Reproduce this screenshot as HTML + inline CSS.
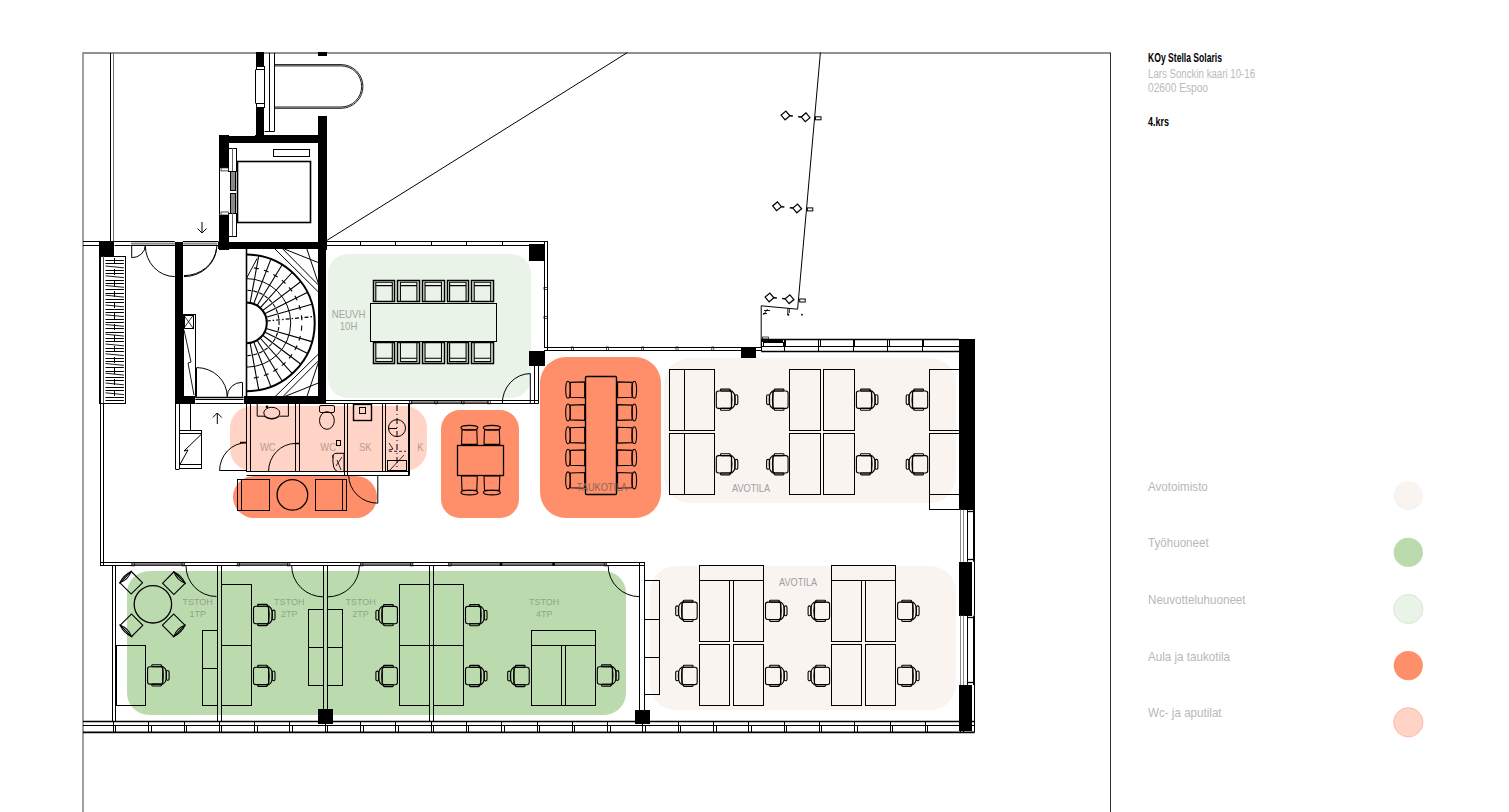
<!DOCTYPE html>
<html><head><meta charset="utf-8"><style>
html,body{margin:0;padding:0;background:#fff;width:1509px;height:812px;overflow:hidden}
svg{display:block;font-family:"Liberation Sans",sans-serif}
</style></head><body>
<svg width="1509" height="812" viewBox="0 0 1509 812">
<rect x="328" y="254" width="203" height="144" rx="20" fill="#e9f3e7"/>
<rect x="230" y="406" width="197" height="65" rx="22" fill="#ffd3c5"/>
<rect x="233" y="476" width="144" height="42" rx="21" fill="#ff8e6a"/>
<rect x="441" y="410" width="78" height="108" rx="19" fill="#ff8e6a"/>
<rect x="540" y="357" width="121" height="161" rx="26" fill="#ff8e6a"/>
<rect x="664" y="358" width="292" height="145" rx="26" fill="#f9f4f0"/>
<rect x="127" y="571" width="499" height="144" rx="22" fill="#bbdbae"/>
<rect x="650" y="566" width="306" height="144" rx="26" fill="#f9f4f0"/>
<path d="M83,812 V53 H1110.5" stroke="#6e6e6e" stroke-width="1.3" fill="none" />
<line x1="1110.5" y1="52.5" x2="1110.5" y2="812" stroke="#333" stroke-width="1" />
<line x1="110.5" y1="53" x2="110.5" y2="241.7" stroke="#000" stroke-width="1" />
<line x1="113.5" y1="53" x2="113.5" y2="241.7" stroke="#707070" stroke-width="1" />
<line x1="83" y1="241.5" x2="130.5" y2="241.5" stroke="#000" stroke-width="1" />
<line x1="83" y1="245.5" x2="99" y2="245.5" stroke="#000" stroke-width="1" />
<line x1="114.5" y1="245.5" x2="130.5" y2="245.5" stroke="#000" stroke-width="1" />
<rect x="99" y="242" width="15" height="14" fill="#000"/>
<line x1="100.5" y1="256" x2="100.5" y2="565" stroke="#000" stroke-width="1" />
<line x1="103.5" y1="256" x2="103.5" y2="565" stroke="#000" stroke-width="1" />
<rect x="99.5" y="256.5" width="26.0" height="147.0" fill="none" stroke="#000" stroke-width="1" rx="0" />
<line x1="103.5" y1="256.2" x2="103.5" y2="403.3" stroke="#555" stroke-width="1" />
<line x1="105.5" y1="260.5" x2="123.9" y2="260.5" stroke="#000" stroke-width="1" />
<line x1="105.5" y1="263.5" x2="123.9" y2="263.5" stroke="#000" stroke-width="1" />
<line x1="105.5" y1="266.0" x2="123.9" y2="267.8" stroke="#000" stroke-width="0.9" />
<line x1="105.5" y1="270.5" x2="123.9" y2="270.5" stroke="#000" stroke-width="1" />
<line x1="105.5" y1="273.5" x2="123.9" y2="273.5" stroke="#000" stroke-width="1" />
<line x1="105.5" y1="275.8" x2="123.9" y2="277.6" stroke="#000" stroke-width="0.9" />
<line x1="105.5" y1="280.5" x2="123.9" y2="280.5" stroke="#000" stroke-width="1" />
<line x1="105.5" y1="283.5" x2="123.9" y2="283.5" stroke="#000" stroke-width="1" />
<line x1="105.5" y1="285.5" x2="123.9" y2="287.3" stroke="#000" stroke-width="0.9" />
<line x1="105.5" y1="289.5" x2="123.9" y2="289.5" stroke="#000" stroke-width="1" />
<line x1="105.5" y1="293.5" x2="123.9" y2="293.5" stroke="#000" stroke-width="1" />
<line x1="105.5" y1="295.2" x2="123.9" y2="297.1" stroke="#000" stroke-width="0.9" />
<line x1="105.5" y1="299.5" x2="123.9" y2="299.5" stroke="#000" stroke-width="1" />
<line x1="105.5" y1="302.5" x2="123.9" y2="302.5" stroke="#000" stroke-width="1" />
<line x1="105.5" y1="305.0" x2="123.9" y2="306.8" stroke="#000" stroke-width="0.9" />
<line x1="105.5" y1="309.5" x2="123.9" y2="309.5" stroke="#000" stroke-width="1" />
<line x1="105.5" y1="312.5" x2="123.9" y2="312.5" stroke="#000" stroke-width="1" />
<line x1="105.5" y1="314.8" x2="123.9" y2="316.6" stroke="#000" stroke-width="0.9" />
<line x1="105.5" y1="319.5" x2="123.9" y2="319.5" stroke="#000" stroke-width="1" />
<line x1="105.5" y1="322.5" x2="123.9" y2="322.5" stroke="#000" stroke-width="1" />
<line x1="105.5" y1="324.5" x2="123.9" y2="326.3" stroke="#000" stroke-width="0.9" />
<line x1="105.5" y1="328.5" x2="123.9" y2="328.5" stroke="#000" stroke-width="1" />
<line x1="105.5" y1="332.5" x2="123.9" y2="332.5" stroke="#000" stroke-width="1" />
<line x1="105.5" y1="334.2" x2="123.9" y2="336.1" stroke="#000" stroke-width="0.9" />
<line x1="105.5" y1="338.5" x2="123.9" y2="338.5" stroke="#000" stroke-width="1" />
<line x1="105.5" y1="341.5" x2="123.9" y2="341.5" stroke="#000" stroke-width="1" />
<line x1="105.5" y1="344.0" x2="123.9" y2="345.8" stroke="#000" stroke-width="0.9" />
<line x1="105.5" y1="348.5" x2="123.9" y2="348.5" stroke="#000" stroke-width="1" />
<line x1="105.5" y1="351.5" x2="123.9" y2="351.5" stroke="#000" stroke-width="1" />
<line x1="105.5" y1="353.8" x2="123.9" y2="355.6" stroke="#000" stroke-width="0.9" />
<line x1="105.5" y1="358.5" x2="123.9" y2="358.5" stroke="#000" stroke-width="1" />
<line x1="105.5" y1="361.5" x2="123.9" y2="361.5" stroke="#000" stroke-width="1" />
<line x1="105.5" y1="363.5" x2="123.9" y2="365.3" stroke="#000" stroke-width="0.9" />
<line x1="105.5" y1="367.5" x2="123.9" y2="367.5" stroke="#000" stroke-width="1" />
<line x1="105.5" y1="371.5" x2="123.9" y2="371.5" stroke="#000" stroke-width="1" />
<line x1="105.5" y1="373.2" x2="123.9" y2="375.1" stroke="#000" stroke-width="0.9" />
<line x1="105.5" y1="377.5" x2="123.9" y2="377.5" stroke="#000" stroke-width="1" />
<line x1="105.5" y1="380.5" x2="123.9" y2="380.5" stroke="#000" stroke-width="1" />
<line x1="105.5" y1="383.0" x2="123.9" y2="384.8" stroke="#000" stroke-width="0.9" />
<line x1="105.5" y1="387.5" x2="123.9" y2="387.5" stroke="#000" stroke-width="1" />
<line x1="105.5" y1="390.5" x2="123.9" y2="390.5" stroke="#000" stroke-width="1" />
<line x1="105.5" y1="392.8" x2="123.9" y2="394.6" stroke="#000" stroke-width="0.9" />
<line x1="105.5" y1="397.5" x2="123.9" y2="397.5" stroke="#000" stroke-width="1" />
<line x1="105.5" y1="400.5" x2="123.9" y2="400.5" stroke="#000" stroke-width="1" />
<line x1="114.5" y1="258" x2="114.5" y2="264" stroke="#000" stroke-width="1" />
<line x1="114.5" y1="269" x2="114.5" y2="275" stroke="#000" stroke-width="1" />
<line x1="114.5" y1="280" x2="114.5" y2="286" stroke="#000" stroke-width="1" />
<line x1="114.5" y1="291" x2="114.5" y2="297" stroke="#000" stroke-width="1" />
<line x1="114.5" y1="302" x2="114.5" y2="308" stroke="#000" stroke-width="1" />
<line x1="114.5" y1="313" x2="114.5" y2="319" stroke="#000" stroke-width="1" />
<line x1="114.5" y1="324" x2="114.5" y2="330" stroke="#000" stroke-width="1" />
<line x1="114.5" y1="335" x2="114.5" y2="341" stroke="#000" stroke-width="1" />
<line x1="114.5" y1="346" x2="114.5" y2="352" stroke="#000" stroke-width="1" />
<line x1="114.5" y1="357" x2="114.5" y2="363" stroke="#000" stroke-width="1" />
<line x1="114.5" y1="368" x2="114.5" y2="374" stroke="#000" stroke-width="1" />
<line x1="114.5" y1="379" x2="114.5" y2="385" stroke="#000" stroke-width="1" />
<line x1="114.5" y1="390" x2="114.5" y2="396" stroke="#000" stroke-width="1" />
<rect x="256" y="52" width="8" height="14" fill="#000"/>
<rect x="256.5" y="66.5" width="8.0" height="3.0" fill="none" stroke="#000" stroke-width="1" rx="0" />
<line x1="255.5" y1="69.5" x2="255.5" y2="103.5" stroke="#000" stroke-width="1" />
<line x1="264.5" y1="69.5" x2="264.5" y2="103.5" stroke="#000" stroke-width="1" />
<rect x="256.5" y="103.5" width="8.0" height="4.0" fill="none" stroke="#000" stroke-width="1" rx="0" />
<rect x="256" y="107" width="8" height="36" fill="#000"/>
<line x1="269.5" y1="53" x2="269.5" y2="131.7" stroke="#000" stroke-width="1" />
<line x1="274.5" y1="53" x2="274.5" y2="131.7" stroke="#000" stroke-width="1" />
<line x1="264.5" y1="131.5" x2="274.2" y2="131.5" stroke="#000" stroke-width="1" />
<path d="M274.5,64.6 H341.1 A21.85,21.85 0 0 1 341.1,108.3 H274.5" stroke="#000" stroke-width="0.9" fill="none" />
<path d="M274.5,65.9 H341.1 A20.55,20.55 0 0 1 341.1,107 H274.5" stroke="#000" stroke-width="0.9" fill="none" />
<rect x="318" y="52" width="9" height="4" fill="#000"/>
<rect x="318" y="116" width="9" height="134" fill="#000"/>
<rect x="219" y="135" width="108" height="8" fill="#000"/>
<line x1="220.5" y1="135.5" x2="255" y2="135.5" stroke="#fff" stroke-width="1" />
<rect x="219" y="135" width="10" height="33" fill="#000"/>
<rect x="219" y="215" width="10" height="35" fill="#000"/>
<line x1="219.5" y1="167.9" x2="219.5" y2="214.7" stroke="#000" stroke-width="1" />
<rect x="237.5" y="161.5" width="73.0" height="61.0" fill="none" stroke="#000" stroke-width="1.6" rx="0" />
<rect x="273.5" y="149.5" width="36.0" height="7.0" fill="none" stroke="#000" stroke-width="1" rx="0" />
<rect x="228.5" y="148.5" width="8.0" height="23.0" fill="none" stroke="#000" stroke-width="1" rx="0" />
<line x1="232.5" y1="148.2" x2="232.5" y2="171.4" stroke="#666" stroke-width="1" />
<rect x="230.5" y="171.5" width="5.0" height="19.0" fill="#888" stroke="#000" stroke-width="1" rx="0" />
<rect x="230.5" y="193.5" width="5.0" height="20.0" fill="#888" stroke="#000" stroke-width="1" rx="0" />
<rect x="228.5" y="213.5" width="8.0" height="23.0" fill="none" stroke="#000" stroke-width="1" rx="0" />
<line x1="232.5" y1="213" x2="232.5" y2="236.3" stroke="#666" stroke-width="1" />
<rect x="221" y="167.9" width="7.5" height="3" fill="#fff" stroke="#000" stroke-width="0.7" rx="0" />
<rect x="221" y="212" width="7.5" height="3" fill="#fff" stroke="#000" stroke-width="0.7" rx="0" />
<path d="M202,222 V233 M197.5,228.5 L202,233 L206.5,228.5" stroke="#000" stroke-width="1" fill="none" />
<rect x="175" y="242" width="8" height="162" fill="#000"/>
<rect x="218" y="242" width="108" height="7" fill="#000"/>
<rect x="318" y="242" width="8" height="162" fill="#000"/>
<rect x="175" y="396" width="20" height="8" fill="#000"/>
<rect x="244" y="396" width="82" height="8" fill="#000"/>
<line x1="195.3" y1="397.5" x2="243.6" y2="397.5" stroke="#000" stroke-width="1.3" />
<line x1="195.3" y1="399.5" x2="243.6" y2="399.5" stroke="#000" stroke-width="1" />
<line x1="195.3" y1="403.5" x2="243.6" y2="403.5" stroke="#000" stroke-width="1" />
<line x1="130.5" y1="241.5" x2="174.8" y2="241.5" stroke="#000" stroke-width="1" />
<line x1="130.5" y1="245.5" x2="174.8" y2="245.5" stroke="#000" stroke-width="1" />
<rect x="131" y="242.6" width="44" height="2" fill="#8a8a8a" stroke="none" stroke-width="1" rx="0" />
<rect x="183.3" y="242.6" width="34" height="2" fill="#8a8a8a" stroke="none" stroke-width="1" rx="0" />
<line x1="182.8" y1="241.5" x2="218.5" y2="241.5" stroke="#000" stroke-width="1" />
<line x1="182.8" y1="245.5" x2="218.5" y2="245.5" stroke="#000" stroke-width="1" />
<path d="M131.7,245.4 V257.7 A13.6,12.3 0 0 0 145.3,245.4" stroke="#000" stroke-width="1" fill="none" />
<path d="M145.3,245.4 A29.5,31.2 0 0 0 174.8,276.6" stroke="#000" stroke-width="1" fill="none" />
<path d="M184,276.6 A32.9,31.2 0 0 0 216.9,245.4" stroke="#000" stroke-width="1" fill="none" />
<line x1="175.5" y1="403.6" x2="175.5" y2="469" stroke="#000" stroke-width="1" />
<line x1="179.5" y1="403.6" x2="179.5" y2="469" stroke="#000" stroke-width="1" />
<line x1="175.4" y1="469.5" x2="179.4" y2="469.5" stroke="#000" stroke-width="1" />
<rect x="179.5" y="430.5" width="22.0" height="38.0" fill="none" stroke="#000" stroke-width="1" rx="0" />
<line x1="179.4" y1="433.5" x2="201.6" y2="433.5" stroke="#000" stroke-width="1" />
<line x1="179.4" y1="464.5" x2="201.6" y2="464.5" stroke="#000" stroke-width="1" />
<line x1="190.5" y1="403.6" x2="190.5" y2="430.2" stroke="#000" stroke-width="1" />
<path d="M179.6,465 L188,450 L184,451 L201,434.6" stroke="#000" stroke-width="1" fill="none" />
<path d="M217.3,413 V424 M212.8,417.5 L217.3,413 L221.8,417.5" stroke="#000" stroke-width="1" fill="none" />
<rect x="183.5" y="314.5" width="12.0" height="82.0" fill="none" stroke="#000" stroke-width="1" rx="0" />
<rect x="184.5" y="315.5" width="9.0" height="13.0" fill="none" stroke="#000" stroke-width="1" rx="0" />
<path d="M184,315.5 L193,328 M193,315.5 L184,328" stroke="#000" stroke-width="0.8" fill="none" />
<path d="M184,330 L191,362 L188,363 L194,395" stroke="#000" stroke-width="0.9" fill="none" />
<path d="M196.7,367.6 A30.5,29.1 0 0 1 227.2,396.7" stroke="#000" stroke-width="1" fill="none" />
<line x1="196.5" y1="367.6" x2="196.5" y2="396.7" stroke="#000" stroke-width="1" />
<path d="M227.2,396.7 A14.8,14.4 0 0 1 242,382.3" stroke="#000" stroke-width="1" fill="none" />
<line x1="242.5" y1="382.3" x2="242.5" y2="396.7" stroke="#000" stroke-width="1" />
<path d="M183.9,275.6 A32.5,30 0 0 0 216.4,248.8" stroke="#000" stroke-width="1" fill="none" />
<line x1="246.5" y1="248.8" x2="246.5" y2="396.7" stroke="#000" stroke-width="1.6" />
<path d="M246.4,254.59999999999997 A68.3,68.3 0 0 1 246.4,391.2" stroke="#000" stroke-width="2" fill="none" />
<path d="M246.4,302.5 A20.4,20.4 0 0 1 246.4,343.29999999999995" stroke="#000" stroke-width="2" fill="none" />
<path d="M246.4,278.59999999999997 A44.3,44.3 0 0 1 246.4,367.2" stroke="#000" stroke-width="1" fill="none" />
<line x1="250.1" y1="302.8" x2="258.7" y2="256.0" stroke="#000" stroke-width="1.1" />
<line x1="253.7" y1="303.9" x2="270.8" y2="259.4" stroke="#000" stroke-width="1.1" />
<line x1="257.1" y1="305.5" x2="282.0" y2="265.0" stroke="#000" stroke-width="1.1" />
<line x1="260.1" y1="307.8" x2="292.1" y2="272.5" stroke="#000" stroke-width="1.1" />
<line x1="262.6" y1="310.6" x2="300.6" y2="281.8" stroke="#000" stroke-width="1.1" />
<line x1="264.6" y1="313.8" x2="307.2" y2="292.5" stroke="#000" stroke-width="1.1" />
<line x1="266.0" y1="317.3" x2="311.8" y2="304.2" stroke="#000" stroke-width="1.1" />
<line x1="266.7" y1="321.0" x2="314.1" y2="316.5" stroke="#000" stroke-width="1.2" stroke-dasharray="4,2,1.5,2"/>
<line x1="250.1" y1="343.0" x2="258.7" y2="389.8" stroke="#000" stroke-width="1.1" />
<line x1="253.7" y1="341.9" x2="270.8" y2="386.4" stroke="#000" stroke-width="1.1" />
<line x1="257.1" y1="340.3" x2="282.0" y2="380.8" stroke="#000" stroke-width="1.1" />
<line x1="260.1" y1="338.0" x2="292.1" y2="373.3" stroke="#000" stroke-width="1.1" />
<line x1="262.6" y1="335.2" x2="300.6" y2="364.0" stroke="#000" stroke-width="1.1" />
<line x1="264.6" y1="332.0" x2="307.2" y2="353.3" stroke="#000" stroke-width="1.1" />
<line x1="266.0" y1="328.5" x2="311.8" y2="341.6" stroke="#000" stroke-width="1.1" />
<path d="M253.9,267.9 A55.5,55.5 0 0 1 258.9,268.8" stroke="#000" stroke-width="1.1" fill="none"/>
<path d="M263.9,270.2 A55.5,55.5 0 0 1 268.6,272.0" stroke="#000" stroke-width="1.1" fill="none"/>
<path d="M273.3,274.4 A55.5,55.5 0 0 1 277.6,277.0" stroke="#000" stroke-width="1.1" fill="none"/>
<path d="M281.8,280.1 A55.5,55.5 0 0 1 285.5,283.5" stroke="#000" stroke-width="1.1" fill="none"/>
<path d="M289.0,287.4 A55.5,55.5 0 0 1 292.1,291.4" stroke="#000" stroke-width="1.1" fill="none"/>
<path d="M294.8,295.8 A55.5,55.5 0 0 1 297.1,300.3" stroke="#000" stroke-width="1.1" fill="none"/>
<path d="M299.0,305.2 A55.5,55.5 0 0 1 300.4,310.0" stroke="#000" stroke-width="1.1" fill="none"/>
<path d="M301.4,315.2 A55.5,55.5 0 0 1 301.8,320.2" stroke="#000" stroke-width="1.1" fill="none"/>
<path d="M301.8,325.6 A55.5,55.5 0 0 1 301.4,330.6" stroke="#000" stroke-width="1.1" fill="none"/>
<path d="M300.4,335.8 A55.5,55.5 0 0 1 299.0,340.6" stroke="#000" stroke-width="1.1" fill="none"/>
<path d="M297.1,345.5 A55.5,55.5 0 0 1 294.8,350.0" stroke="#000" stroke-width="1.1" fill="none"/>
<path d="M292.1,354.4 A55.5,55.5 0 0 1 289.0,358.4" stroke="#000" stroke-width="1.1" fill="none"/>
<path d="M285.5,362.3 A55.5,55.5 0 0 1 281.8,365.7" stroke="#000" stroke-width="1.1" fill="none"/>
<path d="M277.6,368.8 A55.5,55.5 0 0 1 273.3,371.4" stroke="#000" stroke-width="1.1" fill="none"/>
<path d="M268.6,373.8 A55.5,55.5 0 0 1 263.9,375.6" stroke="#000" stroke-width="1.1" fill="none"/>
<path d="M258.9,377.0 A55.5,55.5 0 0 1 253.9,377.9" stroke="#000" stroke-width="1.1" fill="none"/>
<path d="M247.4,290.2 A32.7,32.7 0 0 1 251.3,290.6" stroke="#000" stroke-width="1.1" fill="none"/>
<path d="M253.3,290.9 A32.7,32.7 0 0 1 257.2,292.0" stroke="#000" stroke-width="1.1" fill="none"/>
<path d="M259.1,292.8 A32.7,32.7 0 0 1 262.7,294.5" stroke="#000" stroke-width="1.1" fill="none"/>
<path d="M264.4,295.6 A32.7,32.7 0 0 1 267.6,298.0" stroke="#000" stroke-width="1.1" fill="none"/>
<path d="M269.1,299.4 A32.7,32.7 0 0 1 271.8,302.3" stroke="#000" stroke-width="1.1" fill="none"/>
<path d="M273.1,304.0 A32.7,32.7 0 0 1 275.2,307.3" stroke="#000" stroke-width="1.1" fill="none"/>
<path d="M276.1,309.2 A32.7,32.7 0 0 1 277.5,312.9" stroke="#000" stroke-width="1.1" fill="none"/>
<path d="M278.1,314.9 A32.7,32.7 0 0 1 278.8,318.8" stroke="#000" stroke-width="1.1" fill="none"/>
<path d="M279.0,320.9 A32.7,32.7 0 0 1 279.0,324.9" stroke="#000" stroke-width="1.1" fill="none"/>
<path d="M278.8,327.0 A32.7,32.7 0 0 1 278.1,330.9" stroke="#000" stroke-width="1.1" fill="none"/>
<path d="M277.5,332.9 A32.7,32.7 0 0 1 276.1,336.6" stroke="#000" stroke-width="1.1" fill="none"/>
<path d="M275.2,338.5 A32.7,32.7 0 0 1 273.1,341.8" stroke="#000" stroke-width="1.1" fill="none"/>
<path d="M271.8,343.5 A32.7,32.7 0 0 1 269.1,346.4" stroke="#000" stroke-width="1.1" fill="none"/>
<path d="M267.6,347.8 A32.7,32.7 0 0 1 264.4,350.2" stroke="#000" stroke-width="1.1" fill="none"/>
<path d="M262.7,351.3 A32.7,32.7 0 0 1 259.1,353.0" stroke="#000" stroke-width="1.1" fill="none"/>
<path d="M257.2,353.8 A32.7,32.7 0 0 1 253.3,354.9" stroke="#000" stroke-width="1.1" fill="none"/>
<path d="M251.3,355.2 A32.7,32.7 0 0 1 247.4,355.6" stroke="#000" stroke-width="1.1" fill="none"/>
<path d="M275,249 L318.4,292 M282.8,249 L318.4,285 M284.3,249 L318.4,262.6 M306.9,249 L318.4,283.5" stroke="#000" stroke-width="1" fill="none" />
<path d="M275,396.7 L318.4,354 M282.8,396.7 L318.4,360.8 M284.3,396.7 L318.4,383 M306.9,396.7 L318.4,362.3" stroke="#000" stroke-width="1" fill="none" />
<path d="M246.4,278.5 L257.2,258.3" stroke="#000" stroke-width="1" fill="none" />
<line x1="326" y1="241.5" x2="547.6" y2="241.5" stroke="#000" stroke-width="1" />
<line x1="326" y1="245.5" x2="544" y2="245.5" stroke="#000" stroke-width="1" />
<line x1="360.5" y1="241" x2="360.5" y2="245" stroke="#000" stroke-width="1" />
<line x1="395.5" y1="241" x2="395.5" y2="245" stroke="#000" stroke-width="1" />
<line x1="431.5" y1="241" x2="431.5" y2="245" stroke="#000" stroke-width="1" />
<line x1="466.5" y1="241" x2="466.5" y2="245" stroke="#000" stroke-width="1" />
<line x1="502.5" y1="241" x2="502.5" y2="245" stroke="#000" stroke-width="1" />
<line x1="547.5" y1="241.2" x2="547.5" y2="350.5" stroke="#000" stroke-width="1" />
<line x1="544.5" y1="241.2" x2="544.5" y2="347" stroke="#000" stroke-width="1" />
<rect x="544" y="287.5" width="3.5" height="2" fill="none" stroke="#000" stroke-width="0.7" rx="0" />
<rect x="544" y="316.3" width="3.5" height="2" fill="none" stroke="#000" stroke-width="0.7" rx="0" />
<rect x="529" y="244" width="16" height="17" fill="#000"/>
<rect x="529" y="351" width="16" height="15" fill="#000"/>
<line x1="534.5" y1="366" x2="534.5" y2="403.7" stroke="#000" stroke-width="1" />
<line x1="538.5" y1="366" x2="538.5" y2="403.7" stroke="#000" stroke-width="1" />
<line x1="325" y1="400.5" x2="538.4" y2="400.5" stroke="#000" stroke-width="1" />
<line x1="325" y1="403.5" x2="538.4" y2="403.5" stroke="#000" stroke-width="1" />
<path d="M502.3,403.7 A28,30 0 0 1 530.3,373.6 V403.7" stroke="#000" stroke-width="1" fill="none" />
<rect x="370.5" y="303.5" width="126.0" height="38.0" fill="none" stroke="#000" stroke-width="1" rx="0" />
<rect x="373.5" y="280.5" width="21.0" height="21.0" fill="none" stroke="#000" stroke-width="1.5" rx="0" />
<path d="M375.8,301.4 V282.2 H392.3 V301.4 M375.8,285.59999999999997 H392.3" stroke="#000" stroke-width="1.1" fill="none" />
<rect x="373.5" y="342.5" width="21.0" height="21.0" fill="none" stroke="#000" stroke-width="1.5" rx="0" />
<path d="M375.8,342.4 V361.59999999999997 H392.3 V342.4 M375.8,358.2 H392.3" stroke="#000" stroke-width="1.1" fill="none" />
<rect x="397.5" y="280.5" width="22.0" height="21.0" fill="none" stroke="#000" stroke-width="1.5" rx="0" />
<path d="M400.40000000000003,301.4 V282.2 H416.90000000000003 V301.4 M400.40000000000003,285.59999999999997 H416.90000000000003" stroke="#000" stroke-width="1.1" fill="none" />
<rect x="397.5" y="342.5" width="22.0" height="21.0" fill="none" stroke="#000" stroke-width="1.5" rx="0" />
<path d="M400.40000000000003,342.4 V361.59999999999997 H416.90000000000003 V342.4 M400.40000000000003,358.2 H416.90000000000003" stroke="#000" stroke-width="1.1" fill="none" />
<rect x="422.5" y="280.5" width="22.0" height="21.0" fill="none" stroke="#000" stroke-width="1.5" rx="0" />
<path d="M425.0,301.4 V282.2 H441.5 V301.4 M425.0,285.59999999999997 H441.5" stroke="#000" stroke-width="1.1" fill="none" />
<rect x="422.5" y="342.5" width="22.0" height="21.0" fill="none" stroke="#000" stroke-width="1.5" rx="0" />
<path d="M425.0,342.4 V361.59999999999997 H441.5 V342.4 M425.0,358.2 H441.5" stroke="#000" stroke-width="1.1" fill="none" />
<rect x="447.5" y="280.5" width="21.0" height="21.0" fill="none" stroke="#000" stroke-width="1.5" rx="0" />
<path d="M449.6,301.4 V282.2 H466.1 V301.4 M449.6,285.59999999999997 H466.1" stroke="#000" stroke-width="1.1" fill="none" />
<rect x="447.5" y="342.5" width="21.0" height="21.0" fill="none" stroke="#000" stroke-width="1.5" rx="0" />
<path d="M449.6,342.4 V361.59999999999997 H466.1 V342.4 M449.6,358.2 H466.1" stroke="#000" stroke-width="1.1" fill="none" />
<rect x="471.5" y="280.5" width="22.0" height="21.0" fill="none" stroke="#000" stroke-width="1.5" rx="0" />
<path d="M474.20000000000005,301.4 V282.2 H490.70000000000005 V301.4 M474.20000000000005,285.59999999999997 H490.70000000000005" stroke="#000" stroke-width="1.1" fill="none" />
<rect x="471.5" y="342.5" width="22.0" height="21.0" fill="none" stroke="#000" stroke-width="1.5" rx="0" />
<path d="M474.20000000000005,342.4 V361.59999999999997 H490.70000000000005 V342.4 M474.20000000000005,358.2 H490.70000000000005" stroke="#000" stroke-width="1.1" fill="none" />
<text transform="translate(348.6,318) scale(0.92,1)" font-size="10.5" fill="#a4a8a2" text-anchor="middle" font-weight="normal" letter-spacing="0">NEUVH</text>
<text transform="translate(348.6,330) scale(0.92,1)" font-size="10.5" fill="#a4a8a2" text-anchor="middle" font-weight="normal" letter-spacing="0">10H</text>
<line x1="100" y1="562.5" x2="644" y2="562.5" stroke="#000" stroke-width="1" />
<line x1="100" y1="565.5" x2="644" y2="565.5" stroke="#000" stroke-width="1" />
<rect x="131.8" y="563.2" width="52.7" height="2.2" fill="#707070" stroke="none" stroke-width="1" rx="0" />
<rect x="131.8" y="562.6" width="2.5" height="3.3" fill="none" stroke="#000" stroke-width="0.7" rx="0" />
<rect x="182.0" y="562.6" width="2.5" height="3.3" fill="none" stroke="#000" stroke-width="0.7" rx="0" />
<rect x="237.2" y="563.2" width="52.7" height="2.2" fill="#707070" stroke="none" stroke-width="1" rx="0" />
<rect x="237.2" y="562.6" width="2.5" height="3.3" fill="none" stroke="#000" stroke-width="0.7" rx="0" />
<rect x="287.4" y="562.6" width="2.5" height="3.3" fill="none" stroke="#000" stroke-width="0.7" rx="0" />
<rect x="360.4" y="563.2" width="52.5" height="2.2" fill="#707070" stroke="none" stroke-width="1" rx="0" />
<rect x="360.4" y="562.6" width="2.5" height="3.3" fill="none" stroke="#000" stroke-width="0.7" rx="0" />
<rect x="410.4" y="562.6" width="2.5" height="3.3" fill="none" stroke="#000" stroke-width="0.7" rx="0" />
<rect x="448.6" y="563.2" width="158.1" height="2.2" fill="#707070" stroke="none" stroke-width="1" rx="0" />
<rect x="448.6" y="562.6" width="2.5" height="3.3" fill="none" stroke="#000" stroke-width="0.7" rx="0" />
<rect x="604.2" y="562.6" width="2.5" height="3.3" fill="none" stroke="#000" stroke-width="0.7" rx="0" />
<rect x="499.7" y="562.6" width="2.6" height="3.3" fill="#000" stroke="none" stroke-width="1" rx="0" />
<rect x="552.3000000000001" y="562.6" width="2.6" height="3.3" fill="#000" stroke="none" stroke-width="1" rx="0" />
<line x1="83" y1="721.5" x2="974.6" y2="721.5" stroke="#000" stroke-width="1.4" />
<line x1="83" y1="725.5" x2="974.6" y2="725.5" stroke="#000" stroke-width="1" />
<line x1="83" y1="732.3" x2="974.6" y2="732.3" stroke="#000" stroke-width="1.8" />
<line x1="113.5" y1="721" x2="113.5" y2="732.3" stroke="#000" stroke-width="1" />
<line x1="115.5" y1="725" x2="115.5" y2="732.3" stroke="#000" stroke-width="1" />
<line x1="148.5" y1="721" x2="148.5" y2="732.3" stroke="#000" stroke-width="1" />
<line x1="151.5" y1="725" x2="151.5" y2="732.3" stroke="#000" stroke-width="1" />
<line x1="184.5" y1="721" x2="184.5" y2="732.3" stroke="#000" stroke-width="1" />
<line x1="186.5" y1="725" x2="186.5" y2="732.3" stroke="#000" stroke-width="1" />
<line x1="219.5" y1="721" x2="219.5" y2="732.3" stroke="#000" stroke-width="1" />
<line x1="221.5" y1="725" x2="221.5" y2="732.3" stroke="#000" stroke-width="1" />
<line x1="254.5" y1="721" x2="254.5" y2="732.3" stroke="#000" stroke-width="1" />
<line x1="257.5" y1="725" x2="257.5" y2="732.3" stroke="#000" stroke-width="1" />
<line x1="289.5" y1="721" x2="289.5" y2="732.3" stroke="#000" stroke-width="1" />
<line x1="292.5" y1="725" x2="292.5" y2="732.3" stroke="#000" stroke-width="1" />
<line x1="325.5" y1="721" x2="325.5" y2="732.3" stroke="#000" stroke-width="1" />
<line x1="327.5" y1="725" x2="327.5" y2="732.3" stroke="#000" stroke-width="1" />
<line x1="360.5" y1="721" x2="360.5" y2="732.3" stroke="#000" stroke-width="1" />
<line x1="363.5" y1="725" x2="363.5" y2="732.3" stroke="#000" stroke-width="1" />
<line x1="395.5" y1="721" x2="395.5" y2="732.3" stroke="#000" stroke-width="1" />
<line x1="398.5" y1="725" x2="398.5" y2="732.3" stroke="#000" stroke-width="1" />
<line x1="431.5" y1="721" x2="431.5" y2="732.3" stroke="#000" stroke-width="1" />
<line x1="433.5" y1="725" x2="433.5" y2="732.3" stroke="#000" stroke-width="1" />
<line x1="466.5" y1="721" x2="466.5" y2="732.3" stroke="#000" stroke-width="1" />
<line x1="468.5" y1="725" x2="468.5" y2="732.3" stroke="#000" stroke-width="1" />
<line x1="501.5" y1="721" x2="501.5" y2="732.3" stroke="#000" stroke-width="1" />
<line x1="504.5" y1="725" x2="504.5" y2="732.3" stroke="#000" stroke-width="1" />
<line x1="537.5" y1="721" x2="537.5" y2="732.3" stroke="#000" stroke-width="1" />
<line x1="539.5" y1="725" x2="539.5" y2="732.3" stroke="#000" stroke-width="1" />
<line x1="572.5" y1="721" x2="572.5" y2="732.3" stroke="#000" stroke-width="1" />
<line x1="574.5" y1="725" x2="574.5" y2="732.3" stroke="#000" stroke-width="1" />
<line x1="607.5" y1="721" x2="607.5" y2="732.3" stroke="#000" stroke-width="1" />
<line x1="610.5" y1="725" x2="610.5" y2="732.3" stroke="#000" stroke-width="1" />
<line x1="642.5" y1="721" x2="642.5" y2="732.3" stroke="#000" stroke-width="1" />
<line x1="645.5" y1="725" x2="645.5" y2="732.3" stroke="#000" stroke-width="1" />
<line x1="678.5" y1="721" x2="678.5" y2="732.3" stroke="#000" stroke-width="1" />
<line x1="680.5" y1="725" x2="680.5" y2="732.3" stroke="#000" stroke-width="1" />
<line x1="713.5" y1="721" x2="713.5" y2="732.3" stroke="#000" stroke-width="1" />
<line x1="716.5" y1="725" x2="716.5" y2="732.3" stroke="#000" stroke-width="1" />
<line x1="748.5" y1="721" x2="748.5" y2="732.3" stroke="#000" stroke-width="1" />
<line x1="751.5" y1="725" x2="751.5" y2="732.3" stroke="#000" stroke-width="1" />
<line x1="784.5" y1="721" x2="784.5" y2="732.3" stroke="#000" stroke-width="1" />
<line x1="786.5" y1="725" x2="786.5" y2="732.3" stroke="#000" stroke-width="1" />
<line x1="819.5" y1="721" x2="819.5" y2="732.3" stroke="#000" stroke-width="1" />
<line x1="821.5" y1="725" x2="821.5" y2="732.3" stroke="#000" stroke-width="1" />
<line x1="854.5" y1="721" x2="854.5" y2="732.3" stroke="#000" stroke-width="1" />
<line x1="857.5" y1="725" x2="857.5" y2="732.3" stroke="#000" stroke-width="1" />
<line x1="890.5" y1="721" x2="890.5" y2="732.3" stroke="#000" stroke-width="1" />
<line x1="892.5" y1="725" x2="892.5" y2="732.3" stroke="#000" stroke-width="1" />
<line x1="925.5" y1="721" x2="925.5" y2="732.3" stroke="#000" stroke-width="1" />
<line x1="927.5" y1="725" x2="927.5" y2="732.3" stroke="#000" stroke-width="1" />
<line x1="960.5" y1="721" x2="960.5" y2="732.3" stroke="#000" stroke-width="1" />
<line x1="963.5" y1="725" x2="963.5" y2="732.3" stroke="#000" stroke-width="1" />
<rect x="244" y="396" width="82" height="8" fill="#000"/>
<rect x="410.6" y="401.3" width="78.4" height="2" fill="#707070" stroke="none" stroke-width="1" rx="0" />
<rect x="409.40000000000003" y="400.6" width="2.4" height="3.2" fill="none" stroke="#000" stroke-width="0.8" rx="0" />
<rect x="434.8" y="400.6" width="2.4" height="3.2" fill="none" stroke="#000" stroke-width="0.8" rx="0" />
<rect x="461.6" y="400.6" width="2.4" height="3.2" fill="none" stroke="#000" stroke-width="0.8" rx="0" />
<rect x="487.8" y="400.6" width="2.4" height="3.2" fill="none" stroke="#000" stroke-width="0.8" rx="0" />
<line x1="246.5" y1="403.4" x2="246.5" y2="471.9" stroke="#000" stroke-width="1" />
<line x1="250.5" y1="403.4" x2="250.5" y2="471.9" stroke="#000" stroke-width="1" />
<line x1="295.5" y1="403.4" x2="295.5" y2="471.9" stroke="#000" stroke-width="1" />
<line x1="299.5" y1="403.4" x2="299.5" y2="471.9" stroke="#000" stroke-width="1" />
<line x1="344.5" y1="403.4" x2="344.5" y2="475.2" stroke="#000" stroke-width="1" />
<line x1="347.5" y1="403.4" x2="347.5" y2="475.2" stroke="#000" stroke-width="1" />
<line x1="382.5" y1="403.4" x2="382.5" y2="471.9" stroke="#000" stroke-width="1" />
<line x1="385.5" y1="403.4" x2="385.5" y2="471.9" stroke="#000" stroke-width="1" />
<line x1="408.5" y1="403.4" x2="408.5" y2="475.2" stroke="#000" stroke-width="1" />
<line x1="409.5" y1="403.4" x2="409.5" y2="475.2" stroke="#000" stroke-width="1" />
<line x1="246.6" y1="471.5" x2="409.6" y2="471.5" stroke="#000" stroke-width="1" />
<line x1="246.6" y1="475.5" x2="409.6" y2="475.5" stroke="#000" stroke-width="1" />
<line x1="219.6" y1="470.5" x2="246.6" y2="470.5" stroke="#000" stroke-width="1" />
<path d="M219.6,470.8 A27,28 0 0 1 246.6,442.7" stroke="#000" stroke-width="1" fill="none" />
<line x1="240" y1="442.5" x2="246.6" y2="442.5" stroke="#000" stroke-width="1.5" />
<path d="M268.5,471.6 A27.2,28.2 0 0 1 295.7,443.4" stroke="#000" stroke-width="1" fill="none" />
<line x1="295.7" y1="443.5" x2="299.4" y2="443.5" stroke="#000" stroke-width="1.5" />
<path d="M257.2,403.4 V416.2 H264 Q271.8,422 279.6,416.2 H288.4 V403.4" stroke="#000" stroke-width="1" fill="none" />
<ellipse cx="271.8" cy="412.9" rx="8" ry="5.6" fill="none" stroke="#000" stroke-width="1"/>
<circle cx="267" cy="406.8" r="1.3" fill="#000"/>
<rect x="319.5" y="405.5" width="15.0" height="7.0" fill="none" stroke="#000" stroke-width="1" rx="1.5" />
<ellipse cx="326.9" cy="420.5" rx="7.4" ry="8.8" fill="none" stroke="#000" stroke-width="1"/>
<rect x="336.5" y="440.5" width="4.0" height="5.0" fill="none" stroke="#000" stroke-width="1" rx="0" />
<path d="M333,455 Q332,471 338,471.6 H344 V453.3 H336 Q332,454 333,458" stroke="#000" stroke-width="1" fill="none" />
<path d="M336,466 L342,457 M337,460 L341,470" stroke="#000" stroke-width="0.8" fill="none" />
<rect x="353.5" y="404.5" width="18.0" height="16.0" fill="none" stroke="#000" stroke-width="1.4" rx="0" />
<rect x="359.5" y="407.5" width="6.0" height="6.0" fill="none" stroke="#000" stroke-width="1" rx="0" />
<circle cx="397" cy="428.1" r="8.5" fill="none" stroke="#000" stroke-width="1"/>
<line x1="397" y1="405" x2="397" y2="470" stroke="#000" stroke-width="1" stroke-dasharray="6,3,1,3"/>
<line x1="388" y1="428.5" x2="397" y2="428.5" stroke="#000" stroke-width="1" />
<rect x="387.5" y="460.5" width="19.0" height="10.0" fill="none" stroke="#000" stroke-width="1" rx="0" />
<line x1="389" y1="451.3" x2="406" y2="451.3" stroke="#000" stroke-width="0.8" stroke-dasharray="3,2"/>
<path d="M390,470 L404,455" stroke="#000" stroke-width="0.8" fill="none" />
<path d="M388.6,450 L393,449 L389,443" stroke="#000" stroke-width="0.8" fill="none" />
<text transform="translate(267.8,450.7) scale(0.92,1)" font-size="10.2" fill="#b39e96" text-anchor="middle" font-weight="normal" letter-spacing="0">WC</text>
<text transform="translate(328.1,450.7) scale(0.92,1)" font-size="10.2" fill="#b39e96" text-anchor="middle" font-weight="normal" letter-spacing="0">WC</text>
<text transform="translate(365.2,450.7) scale(0.92,1)" font-size="10.2" fill="#b39e96" text-anchor="middle" font-weight="normal" letter-spacing="0">SK</text>
<text transform="translate(420.3,450.7) scale(0.92,1)" font-size="10.2" fill="#b39e96" text-anchor="middle" font-weight="normal" letter-spacing="0">K</text>
<path d="M348.7,475.2 A29.1,28 0 0 0 377.8,503.2 V475.2" stroke="#000" stroke-width="1" fill="none" />
<rect x="237.5" y="479.5" width="32.0" height="31.0" fill="none" stroke="#000" stroke-width="1" rx="0" />
<line x1="241.5" y1="479.7" x2="241.5" y2="510.2" stroke="#000" stroke-width="1" />
<rect x="315.5" y="479.5" width="31.0" height="31.0" fill="none" stroke="#000" stroke-width="1" rx="0" />
<line x1="342.5" y1="479.7" x2="342.5" y2="510.2" stroke="#000" stroke-width="1" />
<circle cx="292.4" cy="494.9" r="15.3" fill="none" stroke="#000" stroke-width="1.3"/>
<rect x="457.5" y="445.5" width="46.0" height="30.0" fill="none" stroke="#000" stroke-width="1.3" rx="0" />
<defs><g id="dc" fill="none" stroke="#000" stroke-width="1.1"><ellipse cx="-7.2" cy="0" rx="2.3" ry="8.5"/><path d="M-5,-7.4 L9.5,-7.9 V7.9 L-5,7.4 Z"/></g></defs>
<use href="#dc" transform="translate(469.4,434.9) rotate(90)"/>
<use href="#dc" transform="translate(491.9,434.9) rotate(90)"/>
<use href="#dc" transform="translate(469.4,485.4) rotate(-90)"/>
<use href="#dc" transform="translate(491.9,485.4) rotate(-90)"/>
<rect x="585.5" y="376.5" width="31.0" height="118.0" fill="none" stroke="#000" stroke-width="1.4" rx="1.2" />
<use href="#dc" transform="translate(575.2,389.8) rotate(0)"/>
<use href="#dc" transform="translate(627.1,389.8) rotate(180)"/>
<use href="#dc" transform="translate(575.2,412.5) rotate(0)"/>
<use href="#dc" transform="translate(627.1,412.5) rotate(180)"/>
<use href="#dc" transform="translate(575.2,435.2) rotate(0)"/>
<use href="#dc" transform="translate(627.1,435.2) rotate(180)"/>
<use href="#dc" transform="translate(575.2,457.8) rotate(0)"/>
<use href="#dc" transform="translate(627.1,457.8) rotate(180)"/>
<use href="#dc" transform="translate(575.2,480.4) rotate(0)"/>
<use href="#dc" transform="translate(627.1,480.4) rotate(180)"/>
<text transform="translate(602,491) scale(0.92,1)" font-size="10" fill="#8c6658" text-anchor="middle" font-weight="normal" letter-spacing="0">TAUKOTILA</text>
<defs><g id="oc" fill="none" stroke="#000" stroke-width="1.1"><rect x="-10.7" y="-8.7" width="15.1" height="17.4" rx="2.2"/><rect x="-6.6" y="-10.6" width="9.8" height="1.9" rx="0.9"/><rect x="-6.6" y="8.7" width="9.8" height="1.9" rx="0.9"/><path d="M2.5,-9.6 Q8.6,-8 8.2,0 Q8.6,8 2.5,9.6"/><path d="M4.4,-8.4 Q5.6,0 4.4,8.4"/><rect x="7.8" y="-4.9" width="3" height="9.8" rx="1.5"/></g></defs>
<rect x="669.5" y="369.5" width="45.0" height="61.0" fill="none" stroke="#000" stroke-width="1" rx="0" />
<rect x="669.5" y="433.5" width="45.0" height="61.0" fill="none" stroke="#000" stroke-width="1" rx="0" />
<line x1="684.5" y1="369.4" x2="684.5" y2="430.3" stroke="#000" stroke-width="1" />
<line x1="684.5" y1="433.5" x2="684.5" y2="494.6" stroke="#000" stroke-width="1" />
<rect x="789.5" y="369.5" width="31.0" height="61.0" fill="none" stroke="#000" stroke-width="1" rx="0" />
<rect x="823.5" y="369.5" width="31.0" height="61.0" fill="none" stroke="#000" stroke-width="1" rx="0" />
<rect x="789.5" y="433.5" width="31.0" height="61.0" fill="none" stroke="#000" stroke-width="1" rx="0" />
<rect x="823.5" y="433.5" width="31.0" height="61.0" fill="none" stroke="#000" stroke-width="1" rx="0" />
<rect x="929.5" y="369.5" width="30.0" height="61.0" fill="none" stroke="#000" stroke-width="1" rx="0" />
<rect x="929.5" y="433.5" width="30.0" height="61.0" fill="none" stroke="#000" stroke-width="1" rx="0" />
<rect x="929.5" y="494.5" width="30.0" height="15.0" fill="none" stroke="#000" stroke-width="1" rx="0" />
<use href="#oc" transform="translate(727,399.7)"/>
<use href="#oc" transform="translate(777.4,399.7) scale(-1,1)"/>
<use href="#oc" transform="translate(867.1,399.7)"/>
<use href="#oc" transform="translate(917,399.7) scale(-1,1)"/>
<use href="#oc" transform="translate(727,464.3)"/>
<use href="#oc" transform="translate(777.4,464.3) scale(-1,1)"/>
<use href="#oc" transform="translate(867.1,464.3)"/>
<use href="#oc" transform="translate(917,464.3) scale(-1,1)"/>
<text transform="translate(751,491.5) scale(0.92,1)" font-size="10" fill="#a0a0a0" text-anchor="middle" font-weight="normal" letter-spacing="0">AVOTILA</text>
<line x1="544" y1="347.5" x2="761" y2="347.5" stroke="#000" stroke-width="1" />
<line x1="544" y1="350.5" x2="761" y2="350.5" stroke="#000" stroke-width="1" />
<rect x="571.5" y="347" width="2" height="3.5" fill="none" stroke="#000" stroke-width="0.7" rx="0" />
<rect x="606.6" y="347" width="2" height="3.5" fill="none" stroke="#000" stroke-width="0.7" rx="0" />
<rect x="641.7" y="347" width="2" height="3.5" fill="none" stroke="#000" stroke-width="0.7" rx="0" />
<rect x="676" y="347" width="2" height="3.5" fill="none" stroke="#000" stroke-width="0.7" rx="0" />
<rect x="711.8" y="347" width="2" height="3.5" fill="none" stroke="#000" stroke-width="0.7" rx="0" />
<rect x="741" y="348" width="15" height="10" fill="#000"/>
<path d="M627.3,52.6 L325.9,241" stroke="#000" stroke-width="1" fill="none" />
<path d="M820.4,52.6 L797.6,309.2 L761.2,305.8 V347.1" stroke="#000" stroke-width="1" fill="none" />
<rect x="761" y="339" width="22" height="3" fill="#000"/>
<line x1="761.2" y1="339.5" x2="959.2" y2="339.5" stroke="#000" stroke-width="1.6" />
<line x1="761.2" y1="346.5" x2="959.2" y2="346.5" stroke="#000" stroke-width="1" />
<line x1="761.2" y1="351.5" x2="959.2" y2="351.5" stroke="#000" stroke-width="1.6" />
<line x1="761.5" y1="351.1" x2="761.5" y2="339.3" stroke="#000" stroke-width="1" />
<line x1="784.5" y1="339.3" x2="784.5" y2="351.1" stroke="#000" stroke-width="1" />
<line x1="785.5" y1="339.3" x2="785.5" y2="346.2" stroke="#000" stroke-width="1" />
<line x1="818.5" y1="339.3" x2="818.5" y2="351.1" stroke="#000" stroke-width="1" />
<line x1="820.5" y1="339.3" x2="820.5" y2="346.2" stroke="#000" stroke-width="1" />
<line x1="853.5" y1="339.3" x2="853.5" y2="351.1" stroke="#000" stroke-width="1" />
<line x1="854.5" y1="339.3" x2="854.5" y2="346.2" stroke="#000" stroke-width="1" />
<line x1="887.5" y1="339.3" x2="887.5" y2="351.1" stroke="#000" stroke-width="1" />
<line x1="889.5" y1="339.3" x2="889.5" y2="346.2" stroke="#000" stroke-width="1" />
<line x1="922.5" y1="339.3" x2="922.5" y2="351.1" stroke="#000" stroke-width="1" />
<line x1="923.5" y1="339.3" x2="923.5" y2="346.2" stroke="#000" stroke-width="1" />
<rect x="763.5" y="342.5" width="20.0" height="4.0" fill="none" stroke="#000" stroke-width="1" rx="0" />
<g transform="translate(785.5,115.4) rotate(5)"><path d="M0,-4.4 L4.4,0 L0,4.4 L-4.4,0 Z" stroke="#000" stroke-width="1.2" fill="none"/><line x1="4.4" y1="0" x2="7.4" y2="0" stroke="#000" stroke-width="1.5"/></g>
<g transform="translate(805.6,117.3) rotate(5)"><path d="M0,-4.4 L4.4,0 L0,4.4 L-4.4,0 Z" stroke="#000" stroke-width="1.2" fill="none"/><line x1="-7.4" y1="0" x2="-4.4" y2="0" stroke="#000" stroke-width="1.5"/></g>
<rect x="815.5" y="116.8" width="5.5" height="3" fill="none" stroke="#000" stroke-width="1"/>
<g transform="translate(777,206.3) rotate(5)"><path d="M0,-4.4 L4.4,0 L0,4.4 L-4.4,0 Z" stroke="#000" stroke-width="1.2" fill="none"/><line x1="4.4" y1="0" x2="7.4" y2="0" stroke="#000" stroke-width="1.5"/></g>
<g transform="translate(797.2,208.4) rotate(5)"><path d="M0,-4.4 L4.4,0 L0,4.4 L-4.4,0 Z" stroke="#000" stroke-width="1.2" fill="none"/><line x1="-7.4" y1="0" x2="-4.4" y2="0" stroke="#000" stroke-width="1.5"/></g>
<rect x="807.3" y="207.9" width="5.5" height="3" fill="none" stroke="#000" stroke-width="1"/>
<g transform="translate(769.5,297.4) rotate(5)"><path d="M0,-4.4 L4.4,0 L0,4.4 L-4.4,0 Z" stroke="#000" stroke-width="1.2" fill="none"/><line x1="4.4" y1="0" x2="7.4" y2="0" stroke="#000" stroke-width="1.5"/></g>
<g transform="translate(789.5,299.2) rotate(5)"><path d="M0,-4.4 L4.4,0 L0,4.4 L-4.4,0 Z" stroke="#000" stroke-width="1.2" fill="none"/><line x1="-7.4" y1="0" x2="-4.4" y2="0" stroke="#000" stroke-width="1.5"/></g>
<rect x="799.7" y="299.0" width="5.5" height="3" fill="none" stroke="#000" stroke-width="1"/>
<path d="M763.5,315 L767.5,309 M764,310.5 H770 M763,313.5 H767" stroke="#000" stroke-width="0.9" fill="none" />
<path d="M787.8,308.5 V315 M789.3,308.5 V313" stroke="#000" stroke-width="0.9" fill="none" />
<circle cx="788.3" cy="314.8" r="1" fill="#000"/>
<rect x="762.5" y="337" width="6" height="2" fill="none" stroke="#000" stroke-width="0.7" rx="0" />
<circle cx="802" cy="314.7" r="0.9" fill="#000"/>
<rect x="959" y="339" width="16" height="171" fill="#000"/>
<line x1="960.5" y1="509.6" x2="960.5" y2="561.8" stroke="#8a8a8a" stroke-width="1" />
<line x1="963.5" y1="509.6" x2="963.5" y2="561.8" stroke="#8a8a8a" stroke-width="1" />
<line x1="967.5" y1="509.6" x2="967.5" y2="561.8" stroke="#000" stroke-width="1" />
<line x1="973.5" y1="509.6" x2="973.5" y2="561.8" stroke="#000" stroke-width="1" />
<line x1="974.5" y1="509.6" x2="974.5" y2="561.8" stroke="#000" stroke-width="1" />
<line x1="967.7" y1="511.5" x2="973.6" y2="511.5" stroke="#000" stroke-width="1.3" />
<line x1="967.7" y1="559.5" x2="973.6" y2="559.5" stroke="#000" stroke-width="1.3" />
<rect x="959" y="562" width="13" height="54" fill="#000"/>
<line x1="974.5" y1="561.8" x2="974.5" y2="615.6" stroke="#000" stroke-width="1" />
<line x1="960.5" y1="615.6" x2="960.5" y2="685" stroke="#8a8a8a" stroke-width="1" />
<line x1="963.5" y1="615.6" x2="963.5" y2="685" stroke="#8a8a8a" stroke-width="1" />
<line x1="967.5" y1="615.6" x2="967.5" y2="685" stroke="#000" stroke-width="1" />
<line x1="973.5" y1="615.6" x2="973.5" y2="685" stroke="#000" stroke-width="1" />
<line x1="974.5" y1="615.6" x2="974.5" y2="685" stroke="#000" stroke-width="1" />
<line x1="967.7" y1="617.5" x2="973.6" y2="617.5" stroke="#000" stroke-width="1.3" />
<line x1="967.7" y1="682.5" x2="973.6" y2="682.5" stroke="#000" stroke-width="1.3" />
<rect x="959" y="685" width="13" height="46" fill="#000"/>
<line x1="974.5" y1="685" x2="974.5" y2="732.3" stroke="#000" stroke-width="1" />
<rect x="699.5" y="565.5" width="64.0" height="15.0" fill="none" stroke="#000" stroke-width="1" rx="0" />
<rect x="699.5" y="580.5" width="30.0" height="61.0" fill="none" stroke="#000" stroke-width="1" rx="0" />
<rect x="733.5" y="580.5" width="30.0" height="61.0" fill="none" stroke="#000" stroke-width="1" rx="0" />
<rect x="699.5" y="644.5" width="30.0" height="61.0" fill="none" stroke="#000" stroke-width="1" rx="0" />
<rect x="733.5" y="644.5" width="30.0" height="61.0" fill="none" stroke="#000" stroke-width="1" rx="0" />
<rect x="831.5" y="565.5" width="64.0" height="15.0" fill="none" stroke="#000" stroke-width="1" rx="0" />
<rect x="831.5" y="580.5" width="30.0" height="61.0" fill="none" stroke="#000" stroke-width="1" rx="0" />
<rect x="865.5" y="580.5" width="30.0" height="61.0" fill="none" stroke="#000" stroke-width="1" rx="0" />
<rect x="831.5" y="644.5" width="30.0" height="61.0" fill="none" stroke="#000" stroke-width="1" rx="0" />
<rect x="865.5" y="644.5" width="30.0" height="61.0" fill="none" stroke="#000" stroke-width="1" rx="0" />
<use href="#oc" transform="translate(686.5,610.8) scale(-1,1)"/>
<use href="#oc" transform="translate(776.2,610.8)"/>
<use href="#oc" transform="translate(818.9,610.8) scale(-1,1)"/>
<use href="#oc" transform="translate(908.3,610.8)"/>
<use href="#oc" transform="translate(686.5,675.9) scale(-1,1)"/>
<use href="#oc" transform="translate(776.2,675.9)"/>
<use href="#oc" transform="translate(818.9,675.9) scale(-1,1)"/>
<use href="#oc" transform="translate(908.3,675.9)"/>
<text transform="translate(798.1,586) scale(0.92,1)" font-size="10" fill="#a0a0a0" text-anchor="middle" font-weight="normal" letter-spacing="0">AVOTILA</text>
<rect x="644.5" y="580.5" width="15.0" height="114.0" fill="none" stroke="#000" stroke-width="1" rx="0" />
<line x1="644.4" y1="619.5" x2="659.4" y2="619.5" stroke="#000" stroke-width="1" />
<line x1="644.4" y1="657.5" x2="659.4" y2="657.5" stroke="#000" stroke-width="1" />
<rect x="639.5" y="562.5" width="5.0" height="3.0" fill="none" stroke="#000" stroke-width="1" rx="0" />
<line x1="112.5" y1="565.9" x2="112.5" y2="721" stroke="#000" stroke-width="1" />
<line x1="115.5" y1="565.9" x2="115.5" y2="721" stroke="#000" stroke-width="1" />
<line x1="217.5" y1="565.9" x2="217.5" y2="721" stroke="#000" stroke-width="1" />
<line x1="221.5" y1="565.9" x2="221.5" y2="721" stroke="#000" stroke-width="1" />
<line x1="323.5" y1="565.9" x2="323.5" y2="721" stroke="#000" stroke-width="1" />
<line x1="327.5" y1="565.9" x2="327.5" y2="721" stroke="#000" stroke-width="1" />
<line x1="429.5" y1="565.9" x2="429.5" y2="721" stroke="#000" stroke-width="1" />
<line x1="433.5" y1="565.9" x2="433.5" y2="721" stroke="#000" stroke-width="1" />
<line x1="639.5" y1="565.9" x2="639.5" y2="721" stroke="#000" stroke-width="1" />
<line x1="644.5" y1="565.9" x2="644.5" y2="721" stroke="#000" stroke-width="1" />
<rect x="318" y="709" width="15" height="15" fill="#000"/>
<rect x="635" y="710" width="15" height="14" fill="#000"/>
<path d="M186,565.9 A30.6,30.6 0 0 0 216.6,596.5" stroke="#000" stroke-width="1" fill="none" />
<path d="M291.7,565.9 A32,31 0 0 0 323.7,596.9" stroke="#000" stroke-width="1" fill="none" />
<path d="M327.4,596.9 A32,31 0 0 0 359.4,565.9" stroke="#000" stroke-width="1" fill="none" />
<path d="M608.2,565.9 A31.6,30.8 0 0 0 639.8,596.7" stroke="#000" stroke-width="1" fill="none" />
<circle cx="152.9" cy="604.3" r="18.7" fill="none" stroke="#000" stroke-width="1.3"/>
<defs><g id="rc" fill="none" stroke="#000" stroke-width="1.1"><rect x="-8" y="-8" width="16" height="16"/><path d="M-8,-8 Q0,-11 8,-8 Q0,-4.2 -8,-8 Z"/></g></defs>
<use href="#rc" transform="translate(131.2,582.7) rotate(-45)"/>
<use href="#rc" transform="translate(173.9,583.2) rotate(45)"/>
<use href="#rc" transform="translate(131.5,625.3) rotate(-135)"/>
<use href="#rc" transform="translate(173.7,625.3) rotate(135)"/>
<rect x="116.5" y="645.5" width="29.0" height="60.0" fill="none" stroke="#000" stroke-width="1" rx="0" />
<use href="#oc" transform="translate(158.3,675.4)"/>
<rect x="202.5" y="630.5" width="15.0" height="75.0" fill="none" stroke="#000" stroke-width="1" rx="0" />
<line x1="202.6" y1="668.5" x2="217.4" y2="668.5" stroke="#000" stroke-width="1" />
<rect x="221.5" y="584.5" width="30.0" height="121.0" fill="none" stroke="#000" stroke-width="1" rx="0" />
<line x1="221.6" y1="645.5" x2="251.6" y2="645.5" stroke="#000" stroke-width="1" />
<use href="#oc" transform="translate(264.2,615)"/>
<use href="#oc" transform="translate(264.2,675.9)"/>
<rect x="308.5" y="609.5" width="15.0" height="76.0" fill="none" stroke="#000" stroke-width="1" rx="0" />
<line x1="308.5" y1="647.5" x2="323.7" y2="647.5" stroke="#000" stroke-width="1" />
<rect x="327.5" y="609.5" width="15.0" height="76.0" fill="none" stroke="#000" stroke-width="1" rx="0" />
<line x1="327.4" y1="647.5" x2="342.5" y2="647.5" stroke="#000" stroke-width="1" />
<rect x="399.5" y="584.5" width="30.0" height="121.0" fill="none" stroke="#000" stroke-width="1" rx="0" />
<rect x="433.5" y="584.5" width="30.0" height="121.0" fill="none" stroke="#000" stroke-width="1" rx="0" />
<line x1="399.3" y1="645.5" x2="463.6" y2="645.5" stroke="#000" stroke-width="1" />
<use href="#oc" transform="translate(386.7,615.1) scale(-1,1)"/>
<use href="#oc" transform="translate(386.7,676) scale(-1,1)"/>
<use href="#oc" transform="translate(476.2,615.1)"/>
<use href="#oc" transform="translate(476.2,676)"/>
<rect x="531.5" y="630.5" width="64.0" height="75.0" fill="none" stroke="#000" stroke-width="1" rx="0" />
<line x1="531.1" y1="645.5" x2="595.4" y2="645.5" stroke="#000" stroke-width="1" />
<line x1="561.5" y1="645.4" x2="561.5" y2="705.6" stroke="#000" stroke-width="1" />
<line x1="565.5" y1="645.4" x2="565.5" y2="705.6" stroke="#000" stroke-width="1" />
<use href="#oc" transform="translate(518.5,676) scale(-1,1)"/>
<use href="#oc" transform="translate(608,675.5)"/>
<text transform="translate(197.7,605.3) scale(0.92,1)" font-size="9.8" fill="#91a38c" text-anchor="middle" font-weight="normal" letter-spacing="0">TSTOH</text>
<text transform="translate(197.7,617.1) scale(0.92,1)" font-size="9.8" fill="#91a38c" text-anchor="middle" font-weight="normal" letter-spacing="0">1TP</text>
<text transform="translate(289.3,605.3) scale(0.92,1)" font-size="9.8" fill="#91a38c" text-anchor="middle" font-weight="normal" letter-spacing="0">TSTOH</text>
<text transform="translate(289.3,617.1) scale(0.92,1)" font-size="9.8" fill="#91a38c" text-anchor="middle" font-weight="normal" letter-spacing="0">2TP</text>
<text transform="translate(360.6,605.3) scale(0.92,1)" font-size="9.8" fill="#91a38c" text-anchor="middle" font-weight="normal" letter-spacing="0">TSTOH</text>
<text transform="translate(360.6,617.1) scale(0.92,1)" font-size="9.8" fill="#91a38c" text-anchor="middle" font-weight="normal" letter-spacing="0">2TP</text>
<text transform="translate(544.2,605.3) scale(0.92,1)" font-size="9.8" fill="#91a38c" text-anchor="middle" font-weight="normal" letter-spacing="0">TSTOH</text>
<text transform="translate(544.2,617.1) scale(0.92,1)" font-size="9.8" fill="#91a38c" text-anchor="middle" font-weight="normal" letter-spacing="0">4TP</text>
<circle cx="1408.3" cy="495.7" r="14.6" fill="#f9f4f0"/>
<text transform="translate(1148,490.8) scale(0.93,1)" font-size="12.5" fill="#b8b8b8" text-anchor="start" font-weight="normal" letter-spacing="0">Avotoimisto</text>
<circle cx="1408.3" cy="552.4" r="14.6" fill="#bbdbae"/>
<text transform="translate(1148,547.45) scale(0.93,1)" font-size="12.5" fill="#b8b8b8" text-anchor="start" font-weight="normal" letter-spacing="0">Ty&#246;huoneet</text>
<circle cx="1408.3" cy="609.0" r="14.6" fill="#e9f3e7" stroke="#d6e9cf" stroke-width="1"/>
<text transform="translate(1148,604.1) scale(0.93,1)" font-size="12.5" fill="#b8b8b8" text-anchor="start" font-weight="normal" letter-spacing="0">Neuvotteluhuoneet</text>
<circle cx="1408.3" cy="665.6" r="14.6" fill="#ff8e6a"/>
<text transform="translate(1148,660.75) scale(0.93,1)" font-size="12.5" fill="#b8b8b8" text-anchor="start" font-weight="normal" letter-spacing="0">Aula ja taukotila</text>
<circle cx="1408.3" cy="722.3" r="14.6" fill="#ffd3c5" stroke="#ffb9a4" stroke-width="1"/>
<text transform="translate(1148,717.4) scale(0.93,1)" font-size="12.5" fill="#b8b8b8" text-anchor="start" font-weight="normal" letter-spacing="0">Wc- ja aputilat</text>
<text transform="translate(1148,62.3) scale(0.688,1)" font-size="12.5" fill="#000" text-anchor="start" font-weight="bold" letter-spacing="0">KOy Stella Solaris</text>
<text transform="translate(1148,77.8) scale(0.775,1)" font-size="12.5" fill="#bababa" text-anchor="start" font-weight="normal" letter-spacing="0">Lars Sonckin kaari 10-16</text>
<text transform="translate(1148,92.4) scale(0.816,1)" font-size="12.5" fill="#bababa" text-anchor="start" font-weight="normal" letter-spacing="0">02600 Espoo</text>
<text transform="translate(1148,126.2) scale(0.72,1)" font-size="12.5" fill="#000" text-anchor="start" font-weight="bold" letter-spacing="0">4.krs</text>
</svg></body></html>
